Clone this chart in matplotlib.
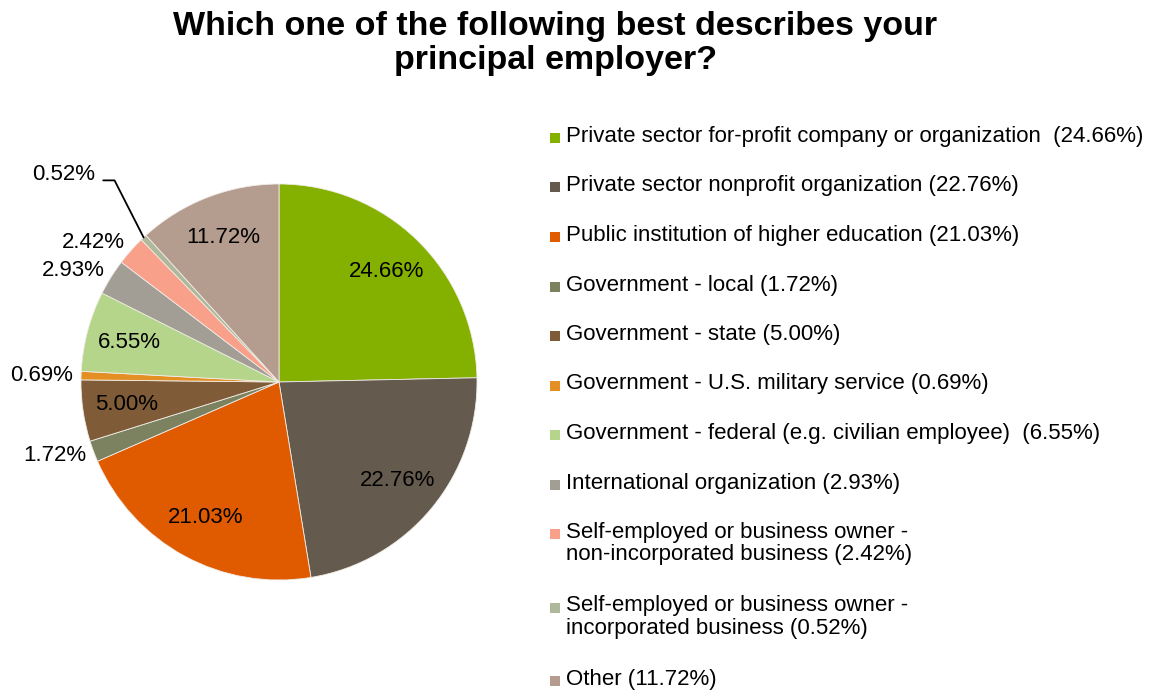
import numpy as np
import matplotlib
matplotlib.use('Agg')
import matplotlib.pyplot as plt
from matplotlib.patches import Rectangle

plt.rcParams['font.family'] = ['Liberation Sans', 'DejaVu Sans']

# ------------- data -------------
categories = [
    'Private sector for-profit company or organization  (24.66%)',
    'Private sector nonprofit organization (22.76%)',
    'Public institution of higher education (21.03%)',
    'Government - local (1.72%)',
    'Government - state (5.00%)',
    'Government - U.S. military service (0.69%)',
    'Government - federal (e.g. civilian employee)  (6.55%)',
    'International organization (2.93%)',
    'Self-employed or business owner -\nnon-incorporated business (2.42%)',
    'Self-employed or business owner -\nincorporated business (0.52%)',
    'Other (11.72%)',
]
values = [24.66, 22.76, 21.03, 1.72, 5.00, 0.69, 6.55, 2.93, 2.42, 0.52, 11.72]
colors = ['#84B000', '#645A4E', '#E05A00', '#7C8260', '#7F5B38', '#E38F24',
          '#B5D58A', '#A29D95', '#F9A08A', '#B0B89C', '#B49C8E']
# which labels go outside the pie
outside = [False, False, False, True, False, True, False, True, True, True, False]

fig = plt.figure(figsize=(11.54, 6.94), dpi=100)

fig.text(0.481, 0.984, 'Which one of the following best describes your\nprincipal employer?',
         ha='center', va='top', fontsize=24.5, fontweight='bold', linespacing=1.12)

# pie axes
ax = fig.add_axes([(279 - 200) / 1154, (694 - 582) / 694, 400 / 1154, 400 / 694])
wedges, _ = ax.pie(values, colors=colors, startangle=90, counterclock=False, radius=1.0,
                   wedgeprops=dict(edgecolor='#f0ece6', linewidth=0.6))
ax.set_xlim(-1.01, 1.01)
ax.set_ylim(-1.01, 1.01)
ax.set_aspect('equal')
ax.axis('off')

for i, w in enumerate(wedges):
    mid = np.deg2rad((w.theta1 + w.theta2) / 2)
    lbl = '%.2f%%' % values[i]
    if not outside[i]:
        ax.text(0.78 * np.cos(mid), 0.78 * np.sin(mid), lbl, ha='center', va='center', fontsize=16)
    elif values[i] < 0.6:
        ax.annotate(lbl, xy=(np.cos(mid), np.sin(mid)), xytext=(-0.93, 1.05),
                    ha='right', va='center', fontsize=16, annotation_clip=False,
                    arrowprops=dict(arrowstyle='-', color='black', lw=1.3, patchA=None,
                                    relpos=(1.0, 0.2),
                                    connectionstyle='angle,angleA=0,angleB=117,rad=0',
                                    shrinkA=6, shrinkB=0))
    else:
        ax.text(1.04 * np.cos(mid), 1.06 * np.sin(mid), lbl, ha='right', va='center', fontsize=16)

# legend drawn by hand to match line spacing
y = 138
for i, cat in enumerate(categories):
    fig.patches.append(Rectangle((550 / 1154, 1 - (y + 5) / 694), 10 / 1154, 10 / 694,
                                 transform=fig.transFigure, facecolor=colors[i], edgecolor='none'))
    fig.text(566 / 1154, 1 - (y - 12) / 694, cat, ha='left', va='top', fontsize=16, linespacing=1.08)
    y += 49.5 + 24 * cat.count('\n')

fig.savefig('out.png', dpi=100)
